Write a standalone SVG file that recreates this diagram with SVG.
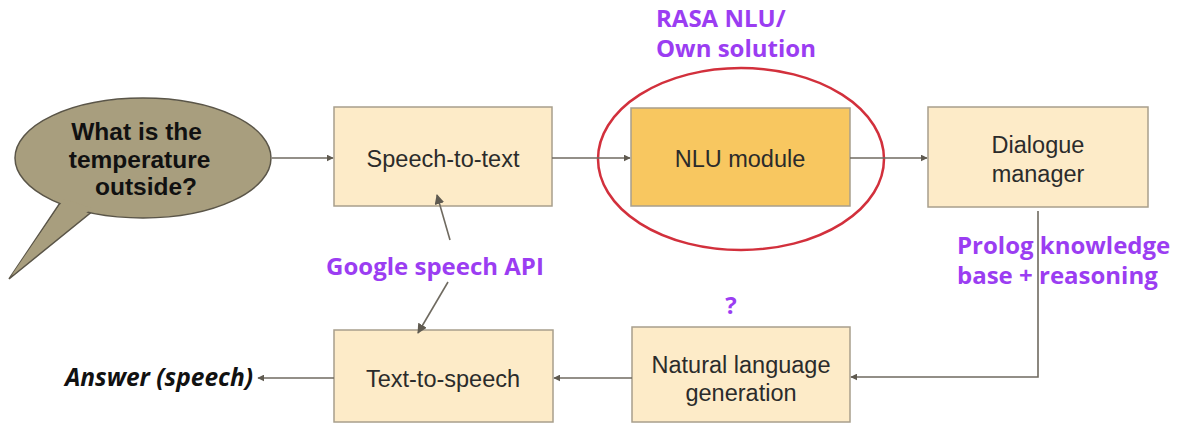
<svg xmlns="http://www.w3.org/2000/svg" width="1182" height="425" viewBox="0 0 1182 425">
<style>
.box{fill:#fdebc8;stroke:#a89f8c;stroke-width:1.5}
.nlu{fill:#f8c760;stroke:#a89f8c;stroke-width:1.5}
.lbl{font-family:"Liberation Sans",Arial,sans-serif;font-size:23.5px;fill:#2b2b2b;text-anchor:middle}
.note{font-family:"Open Sans","Noto Sans",sans-serif;font-weight:bold;font-size:24px;fill:#9b3df2}
.conn{stroke:#6f6a60;stroke-width:1.6;fill:none}
</style>
<defs>
<marker id="ah" viewBox="0 0 10 10" refX="9" refY="5" markerWidth="7" markerHeight="7" markerUnits="userSpaceOnUse" orient="auto">
<path d="M0,0 L10,5 L0,10 Z" fill="#5f5a50"/>
</marker>
<marker id="ahl" viewBox="0 0 10 10" refX="9" refY="5" markerWidth="10" markerHeight="10" markerUnits="userSpaceOnUse" orient="auto">
<path d="M0,0 L10,5 L0,10 Z" fill="#5f5a50"/>
</marker>
</defs>

<g id="bubble">
<path d="M62,200 L9,279 L94,210 Z" fill="#a89e7e" stroke="#5a5548" stroke-width="1.5"/>
<ellipse cx="143" cy="158" rx="128" ry="60" fill="#a89e7e" stroke="#5a5548" stroke-width="1.5"/>
<path d="M64,199 L11,276 L92,208 Z" fill="#a89e7e" stroke="none"/>
<text font-family="Liberation Sans,Arial,sans-serif" font-weight="bold" font-size="24.5" fill="#111" text-anchor="middle">
<tspan x="140" y="140">What is the</tspan>
<tspan x="143" y="168">temperature</tspan>
<tspan x="146" y="195">outside?</tspan>
</text>
</g>

<g id="speech-to-text">
<rect class="box" x="334" y="107" width="218" height="99"/>
<text class="lbl" x="443" y="167">Speech-to-text</text>
</g>

<g id="nlu-module">
<rect class="nlu" x="631" y="108" width="219" height="98"/>
<text class="lbl" x="740" y="167">NLU module</text>
</g>

<g id="nlu-highlight">
<ellipse cx="741" cy="159" rx="143" ry="91" fill="none" stroke="#d2303c" stroke-width="2.5"/>
</g>

<g id="dialogue-manager">
<rect class="box" x="928" y="107" width="220" height="100"/>
<text class="lbl"><tspan x="1038" y="153">Dialogue</tspan><tspan x="1038" y="182">manager</tspan></text>
</g>

<g id="nlg">
<rect class="box" x="632" y="327" width="218" height="95"/>
<text class="lbl"><tspan x="741" y="373">Natural language</tspan><tspan x="741" y="401">generation</tspan></text>
</g>

<g id="text-to-speech">
<rect class="box" x="334" y="330" width="219" height="92"/>
<text class="lbl" x="443" y="387">Text-to-speech</text>
</g>

<g id="connectors">
<line class="conn" x1="272" y1="158" x2="333" y2="158" marker-end="url(#ah)"/>
<line class="conn" x1="552" y1="158" x2="630" y2="158" marker-end="url(#ah)"/>
<line class="conn" x1="850" y1="158" x2="927" y2="158" marker-end="url(#ah)"/>
<polyline class="conn" points="1038,211 1038,377 851,377" marker-end="url(#ah)"/>
<line class="conn" x1="632" y1="378" x2="554" y2="378" marker-end="url(#ah)"/>
<line class="conn" x1="334" y1="378" x2="258" y2="378" marker-end="url(#ah)"/>
<line class="conn" x1="450" y1="240" x2="437" y2="195" marker-end="url(#ahl)"/>
<line class="conn" x1="448" y1="282" x2="418" y2="333" marker-end="url(#ahl)"/>
</g>

<g id="labels">
<text class="note" x="656" y="27">RASA NLU/</text>
<text class="note" x="656" y="57">Own solution</text>
<text class="note" x="435" y="275" text-anchor="middle">Google speech API</text>
<text class="note" x="957" y="254">Prolog knowledge</text>
<text class="note" x="957" y="284">base + reasoning</text>
<text class="note" x="731" y="314" text-anchor="middle">?</text>
<text x="253" y="386" text-anchor="end" font-family="Open Sans,Noto Sans,sans-serif" font-weight="bold" font-style="italic" font-size="24.5" fill="#111">Answer (speech)</text>
</g>
</svg>
